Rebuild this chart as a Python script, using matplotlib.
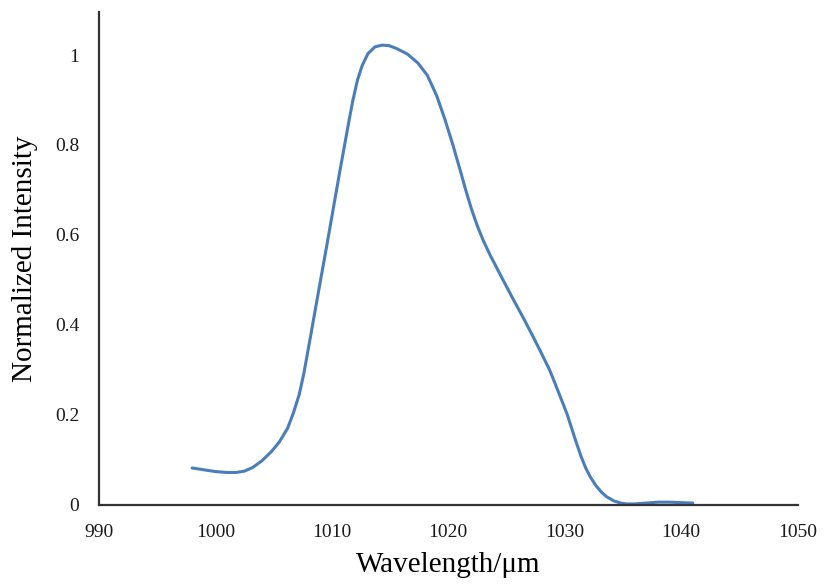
import matplotlib
matplotlib.use("Agg")
import matplotlib.pyplot as plt

# spectrum
wavelength = [998.0, 999.0, 1000.0, 1001.0, 1001.8, 1002.5, 1003.2, 1004.0, 1004.8,
              1005.5, 1006.2, 1006.7, 1007.2, 1007.6, 1007.9, 1008.2, 1008.5, 1008.9,
              1009.4, 1009.9, 1010.3, 1010.7, 1011.1, 1011.5, 1011.8, 1012.2, 1012.6,
              1013.1, 1013.7, 1014.3, 1014.9, 1015.6, 1016.5, 1017.4, 1018.2, 1019.0,
              1019.7, 1020.4, 1021.0, 1021.5, 1022.0, 1022.5, 1023.0, 1023.6, 1024.6,
              1025.6, 1026.5, 1027.3, 1028.0, 1028.7, 1029.2, 1029.7, 1030.2, 1030.6,
              1031.0, 1031.4, 1031.8, 1032.2, 1032.7, 1033.2, 1033.6, 1034.2, 1034.8,
              1035.3, 1036.0, 1037.0, 1038.0, 1039.0, 1040.0, 1041.0]
intensity = [0.082, 0.078, 0.074, 0.072, 0.072, 0.075, 0.083, 0.098, 0.118,
             0.140, 0.170, 0.204, 0.245, 0.292, 0.335, 0.378, 0.422, 0.480,
             0.552, 0.625, 0.684, 0.743, 0.800, 0.857, 0.898, 0.944, 0.976,
             1.003, 1.018, 1.022, 1.021, 1.014, 1.002, 0.982, 0.955, 0.910,
             0.858, 0.800, 0.746, 0.700, 0.657, 0.620, 0.588, 0.555, 0.505,
             0.456, 0.413, 0.373, 0.337, 0.300, 0.268, 0.235, 0.202, 0.170,
             0.138, 0.108, 0.082, 0.062, 0.042, 0.027, 0.018, 0.009, 0.004,
             0.002, 0.002, 0.004, 0.006, 0.006, 0.005, 0.004]

xticks = [990, 1000, 1010, 1020, 1030, 1040, 1050]
yticks = [0, 0.2, 0.4, 0.6, 0.8, 1]
ytick_labels = ["0", "0.2", "0.4", "0.6", "0.8", "1"]

plt.rcParams["font.family"] = ["Liberation Serif", "DejaVu Serif"]

fig = plt.figure(figsize=(8.24, 5.85), dpi=100)
ax = fig.add_axes([0.120, 0.137, 0.848, 0.842])

ax.plot(wavelength, intensity, color="#4a7ebb", linewidth=2.2,
        solid_capstyle="round", solid_joinstyle="round")

ax.set_xlim(990, 1050)
ax.set_ylim(0, 1.095)
ax.set_xticks(xticks)
ax.set_yticks(yticks)
ax.set_yticklabels(ytick_labels)
ax.tick_params(length=0, labelsize=14, colors="#1a1a1a")
ax.tick_params(axis="x", pad=14)
ax.tick_params(axis="y", pad=14)

for side in ["top", "right"]:
    ax.spines[side].set_visible(False)
for side in ["left", "bottom"]:
    ax.spines[side].set_linewidth(1.6)
    ax.spines[side].set_color("#333333")

ax.set_xlabel("Wavelength/μm", fontsize=21, labelpad=8)
ax.set_ylabel("Normalized Intensity", fontsize=21, labelpad=12)

fig.savefig("out.png", dpi=100, facecolor="white")
